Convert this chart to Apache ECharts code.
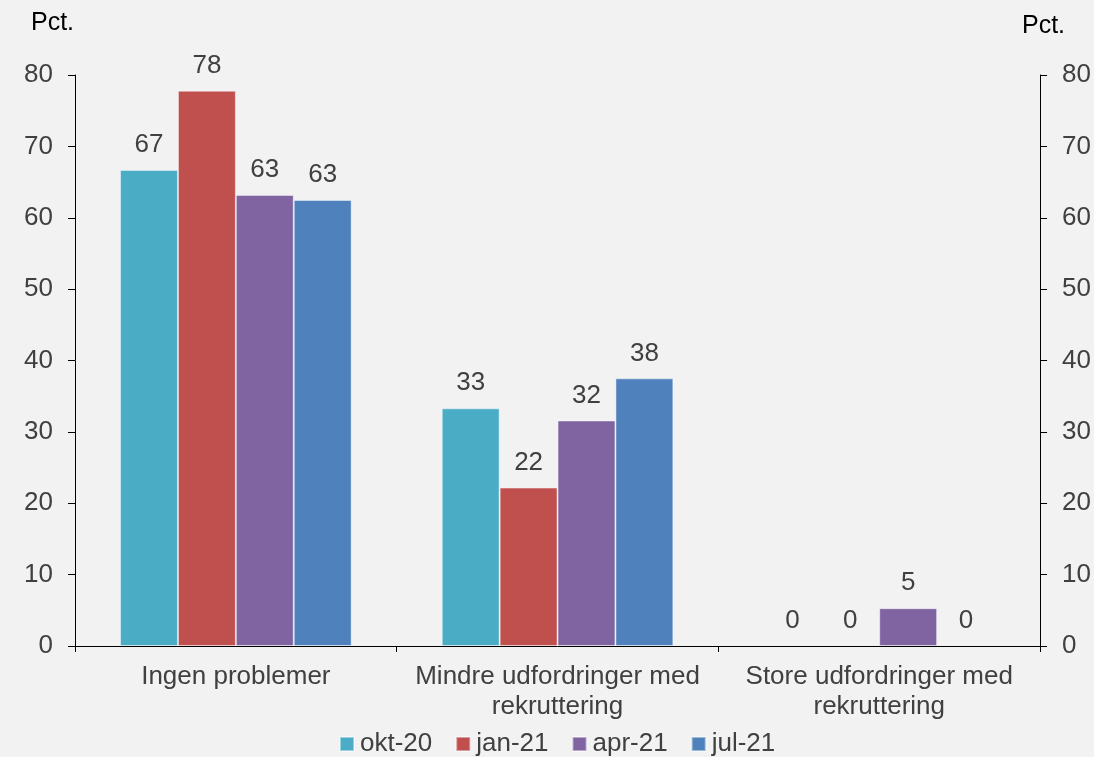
<!DOCTYPE html>
<html>
<head>
<meta charset="utf-8">
<script src="https://cdn.jsdelivr.net/npm/echarts@6/dist/echarts.min.js"></script>
<style>
html,body{margin:0;padding:0;background:#f2f2f2;}
#chart{width:1094px;height:757px;}
</style>
</head>
<body>
<div id="chart"></div>
<script>
var categories = ['Ingen problemer', 'Mindre udfordringer med\nrekruttering', 'Store udfordringer med\nrekruttering'];
var seriesNames = ['okt-20', 'jan-21', 'apr-21', 'jul-21'];
var okt20 = [66.7, 33.3, 0];
var jan21 = [77.8, 22.2, 0];
var apr21 = [63.2, 31.6, 5.3];
var jul21 = [62.5, 37.5, 0];
var colors = ['#4bacc6', '#c0504d', '#8064a2', '#4f81bd'];
var yTicks = [0, 10, 20, 30, 40, 50, 60, 70, 80];

var allData = [okt20, jan21, apr21, jul21];
var FONT = 'Liberation Sans, Arial, sans-serif';
var FS = 26;

function yAxisDef(pos) {
  return {
    type: 'value', position: pos, min: yTicks[0], max: yTicks[yTicks.length - 1],
    interval: yTicks[1] - yTicks[0],
    axisLine: {show: true, lineStyle: {color: '#000', width: 1}},
    axisTick: {show: true, length: 7, inside: false, lineStyle: {color: '#000'}},
    axisLabel: {margin: 22, color: '#404040', fontSize: FS, fontFamily: FONT},
    splitLine: {show: false}
  };
}

var chart = echarts.init(document.getElementById('chart'), null, {renderer: 'canvas'});
chart.setOption({
  backgroundColor: '#f2f2f2',
  animation: false,
  grid: {left: 75, right: 53, top: 75, bottom: 111, containLabel: false},
  legend: {
    top: 731, left: 339, itemWidth: 14, itemHeight: 14, itemGap: 23, padding: 0,
    icon: 'rect',
    textStyle: {color: '#404040', fontSize: FS, fontFamily: FONT, padding: [0, 0, 0, 1]},
    data: seriesNames
  },
  xAxis: {
    type: 'category', data: categories,
    axisLine: {show: true, lineStyle: {color: '#000', width: 1}},
    axisTick: {show: true, length: 6, alignWithLabel: false, lineStyle: {color: '#000'}},
    axisLabel: {margin: 16, color: '#404040', fontSize: FS, lineHeight: 30, fontFamily: FONT, interval: 0}
  },
  yAxis: [yAxisDef('left'), yAxisDef('right')],
  graphic: [
    {type: 'text', left: 31, top: 11, style: {text: 'Pct.', fill: '#000', font: '25px ' + FONT}},
    {type: 'text', left: 1022, top: 14, style: {text: 'Pct.', fill: '#000', font: '25px ' + FONT}}
  ],
  series: seriesNames.map(function (name, i) {
    return {
      name: name, type: 'bar', yAxisIndex: 0,
      data: allData[i].map(function (v) {
        return v === 0 ? {value: v, itemStyle: {borderWidth: 0}} : v;
      }),
      barGap: '0%', barCategoryGap: '28%',
      itemStyle: {color: colors[i], borderColor: 'rgba(255,255,255,0.45)', borderWidth: 1},
      label: {
        show: true, position: 'top', distance: 12, color: '#404040', fontSize: FS, fontFamily: FONT,
        formatter: function (p) { return Math.round(p.value); }
      }
    };
  })
});
</script>
</body>
</html>
